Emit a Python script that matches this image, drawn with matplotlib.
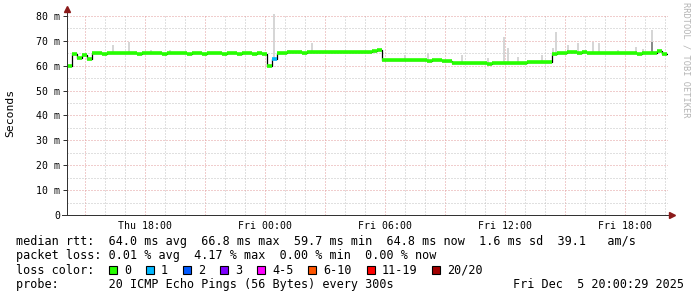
import numpy as np
import matplotlib.pyplot as plt
from matplotlib.patches import Rectangle

W, H = 697, 297

# time axis in hours since Thu 00:00, one median value per 15 minutes
t_start = 14.1
step_h = 0.25

median_ms = [
    59.7, 64.6, 63.1, 64.3, 62.9,
    65.0, 65.1, 64.8, 65.2, 65.0, 65.3, 65.1, 65.0, 65.2, 64.9,
    65.1, 65.3, 65.0, 65.2, 64.8, 65.1, 65.0, 65.3, 65.2, 64.9,
    65.0, 65.1, 64.8, 65.0, 65.2, 65.0, 64.9, 65.1, 65.0, 64.8,
    65.1, 65.0, 64.9, 65.2, 64.9,
    60.0, 62.6,
    65.3, 65.2, 65.6, 65.4, 65.5, 65.2, 65.6, 65.5, 65.6, 65.4,
    65.7, 65.6, 65.6, 65.5, 65.7, 65.6, 65.5, 65.6, 65.7, 65.8, 66.3,
    62.2, 62.4, 62.3, 62.2, 62.5, 62.3, 62.2, 62.4, 62.3, 62.1, 62.3, 62.2, 62.0, 61.9,
    61.0, 61.2, 61.1, 61.3, 61.0, 61.2, 61.1, 60.9, 61.2, 61.0,
    61.1, 61.3, 61.2, 61.0, 61.2, 61.4, 61.5, 61.6, 61.4, 61.5,
    64.9, 65.0, 65.3, 65.4, 65.4, 65.3, 65.4, 65.2, 65.1, 65.0,
    65.2, 65.1, 65.0, 65.1, 65.2, 65.0, 65.1, 64.9, 65.0, 65.1, 65.0, 65.9, 64.8,
]
# steps that lost pings (step index -> lost count bin)
loss_steps = {41: 1}

# smoke spikes: time (h) and top of the smoke (ms)
spike_t = [16.40, 17.20, 18.30, 19.25, 24.45, 25.20, 26.35, 27.75, 31.00, 32.15,
           33.85, 35.15, 35.95, 36.15, 36.65, 37.85, 38.40, 38.55, 39.15, 39.65,
           40.40, 40.70, 41.65, 42.55, 42.90, 43.35]
spike_top = [68.3, 69.7, 66.3, 66.3, 80.6, 66.3, 69.0, 66.1, 64.3, 65.0,
             64.3, 63.0, 71.4, 67.0, 63.7, 64.3, 67.0, 73.7, 68.3, 69.3,
             69.7, 69.0, 66.3, 67.7, 66.6, 74.4]
dark_t = [43.35]
dark_top = [69.7]

loss_labels = ['0', '1', '2', '3', '4-5', '6-10', '11-19', '20/20']
loss_colors = ['#26ff00', '#00b8ff', '#0059ff', '#7e00ff', '#ff00ff',
               '#ff5500', '#ff0000', '#a10000']

x_labels = {18: 'Thu 18:00', 24: 'Fri 00:00', 30: 'Fri 06:00', 36: 'Fri 12:00', 42: 'Fri 18:00'}
y_ticks = [0, 10, 20, 30, 40, 50, 60, 70, 80]
y_labels = ['0', '10 m', '20 m', '30 m', '40 m', '50 m', '60 m', '70 m', '80 m']

legend_lines = [
    'median rtt:  64.0 ms avg  66.8 ms max  59.7 ms min  64.8 ms now  1.6 ms sd  39.1   am/s',
    'packet loss: 0.01 % avg  4.17 % max  0.00 % min  0.00 % now',
    'loss color:',
    'probe:       20 ICMP Echo Pings (56 Bytes) every 300s',
]
stamp = 'Fri Dec  5 20:00:29 2025'

mono = 'DejaVu Sans Mono'
major_c = '#e39c9c'
minor_c = '#c2c2c2'
axis_c = '#333333'
arrow_c = '#8b1a1a'

fig = plt.figure(figsize=(W / 100, H / 100), dpi=100)
fig.patch.set_facecolor('white')
ax = fig.add_axes([67 / W, (H - 215) / H, 601 / W, (215 - 13.5) / H])
t_end = t_start + 601 / 20
ax.set_xlim(t_start, t_end)
ax.set_ylim(0, 81)
for s in ax.spines.values():
    s.set_visible(False)

# grid
dots = (0, (1, 2))
for h in range(15, 45):
    ax.axvline(h, color=major_c if h % 3 == 0 else minor_c, lw=0.72, ls=dots, zorder=0)
for v in range(5, 81, 5):
    ax.axhline(v, color=major_c if v % 10 == 0 else minor_c, lw=0.72, ls=dots, zorder=0)

median = np.array(median_ms)
edges = t_start + step_h * np.arange(len(median) + 1)

# smoke
idx = np.clip(((np.array(spike_t) - t_start) / step_h).astype(int), 0, len(median) - 1)
base = median[idx]
ax.bar(spike_t, np.array(spike_top) - base, bottom=base, width=0.1,
       color='#d6d6d6', zorder=1)
didx = np.clip(((np.array(dark_t) - t_start) / step_h).astype(int), 0, len(median) - 1)
ax.bar(dark_t, np.array(dark_top) - median[didx], bottom=median[didx], width=0.1,
       color='#8a8a8a', zorder=1)

# median line
ax.step(edges, np.append(median, median[-1]), where='post', color='black', lw=0.9, zorder=2)
seg_colors = [loss_colors[loss_steps.get(i, 0)] for i in range(len(median))]
ax.hlines(median, edges[:-1], edges[1:], colors=seg_colors, lw=2.6, zorder=3)

# ticks
ax.set_yticks(y_ticks)
ax.set_yticklabels(y_labels, family=mono, fontsize=7.1)
ax.set_xticks(list(x_labels.keys()))
ax.set_xticklabels(list(x_labels.values()), family=mono, fontsize=7.1)
ax.tick_params(axis='y', length=3.1, width=0.72, color=axis_c, pad=2)
ax.tick_params(axis='x', length=0, pad=4.5)

# axes with arrows
ax.plot([0, 0], [0, 1.02], transform=ax.transAxes, color=axis_c, lw=0.72, clip_on=False, zorder=4)
ax.plot([-0.008, 1.004], [0, 0], transform=ax.transAxes, color=axis_c, lw=0.72, clip_on=False, zorder=4)
ax.plot([0], [1.024], marker='^', ms=4, color=arrow_c, transform=ax.transAxes, clip_on=False, zorder=5)
ax.plot([1.006], [0], marker='>', ms=4, color=arrow_c, transform=ax.transAxes, clip_on=False, zorder=5)

# labels
fig.text(10 / W, 1 - 113 / H, 'Seconds', rotation=90, ha='center', va='center',
         family=mono, fontsize=8.2)
fig.text(686 / W, 1 - 60 / H, 'RRDTOOL / TOBI OETIKER', rotation=270, ha='center',
         va='center', family=mono, fontsize=6.2, color='#b4b4b4')

# legend block
line_y = [241, 255.5, 270, 284.5]
for txt, y in zip(legend_lines, line_y):
    fig.text(16 / W, 1 - y / H, txt, family=mono, fontsize=8.5, va='center')
fig.text(513 / W, 1 - line_y[3] / H, stamp, family=mono, fontsize=8.5, va='center')

cw = 7.1
bx = 109
for lab, col in zip(loss_labels, loss_colors):
    fig.patches.append(Rectangle((bx / W, 1 - 273.5 / H), 8 / W, 8 / H, transform=fig.transFigure,
                                 facecolor=col, edgecolor='black', lw=0.8))
    fig.text((bx + 15) / W, 1 - line_y[2] / H, lab, family=mono, fontsize=8.5, va='center')
    bx += 37 + cw * (len(lab) - 1)

fig.savefig('out.png', dpi=100)
